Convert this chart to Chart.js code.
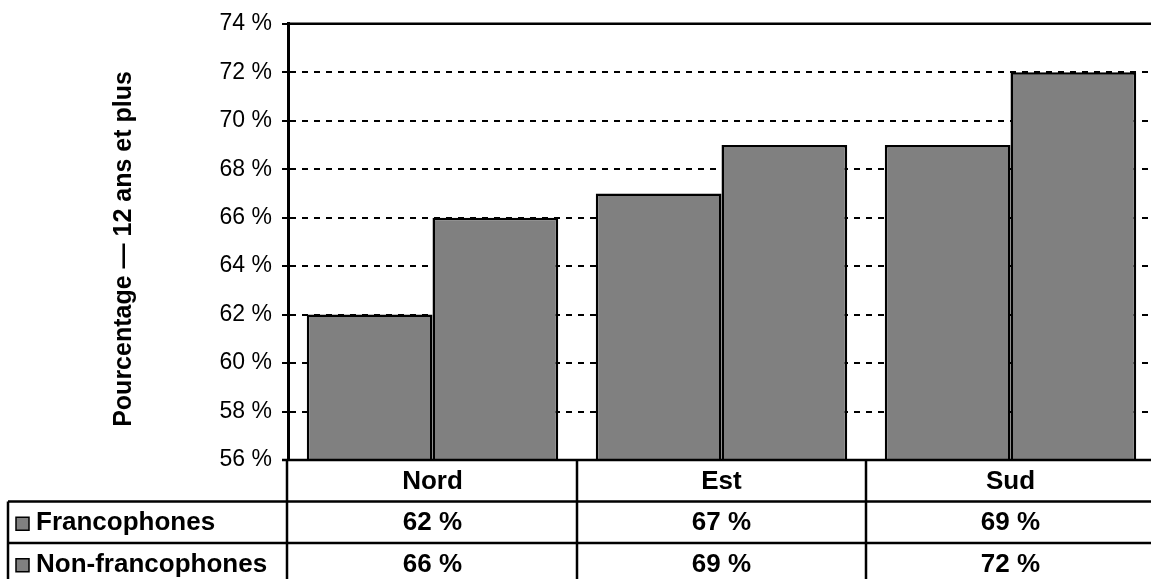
<!DOCTYPE html>
<html lang="fr">
<head>
<meta charset="utf-8">
<title>Pourcentage — 12 ans et plus</title>
<script src="https://cdn.jsdelivr.net/npm/chart.js@4/dist/chart.umd.min.js"></script>
<style>
  html, body { margin: 0; padding: 0; background: #fff; overflow: hidden; }
  #wrap { width: 1155px; height: 579px; }
</style>
</head>
<body>
<div id="wrap"><canvas id="graphique" width="1155" height="579"></canvas></div>
<script>
const regions = ['Nord', 'Est', 'Sud'];
const francophones = [62, 67, 69];
const nonFrancophones = [66, 69, 72];
const yMin = 56;
const yMax = 74;
const yStep = 2;
const seriesNames = ['Francophones', 'Non-francophones'];
const yTitle = 'Pourcentage — 12 ans et plus';

const police = '"Liberation Sans", Arial, Helvetica, sans-serif';
const gris = '#808080';

// tableau de données sous le graphique + titre vertical
const tablePlugin = {
    id: 'tableDonnees',
    afterDraw(chart) {
        const ctx = chart.ctx;
        const xs = chart.scales.x;
        const ys = chart.scales.y;
        const area = chart.chartArea;
        const right = chart.width;
        const row0 = area.bottom;      // 460
        const rowH = 41.5;
        const row1 = row0 + rowH;
        const row2 = row1 + rowH;
        const row3 = row2 + rowH;
        const tableLeft = 8;

        ctx.save();
        ctx.strokeStyle = '#000';
        ctx.lineWidth = 2.5;

        // ligne du haut (74 %) en trait plein
        const yTop = ys.getPixelForValue(yMax);
        ctx.beginPath();
        ctx.moveTo(area.left, yTop);
        ctx.lineTo(right, yTop);
        ctx.stroke();

        // lignes horizontales
        ctx.beginPath();
        ctx.moveTo(area.left - 6, row0); ctx.lineTo(right, row0);
        ctx.moveTo(tableLeft, row1); ctx.lineTo(right, row1);
        ctx.moveTo(tableLeft, row2); ctx.lineTo(right, row2);
        ctx.moveTo(tableLeft, row3); ctx.lineTo(right, row3);
        ctx.stroke();

        // lignes verticales
        ctx.beginPath();
        ctx.moveTo(tableLeft, row1); ctx.lineTo(tableLeft, row3);
        ctx.moveTo(area.left - 1, row0); ctx.lineTo(area.left - 1, row3);
        for (let i = 0; i < regions.length - 1; i++) {
            const xb = (xs.getPixelForValue(i) + xs.getPixelForValue(i + 1)) / 2;
            ctx.moveTo(xb, row0); ctx.lineTo(xb, row3);
        }
        ctx.stroke();

        // textes
        ctx.fillStyle = '#000';
        ctx.font = 'bold 26px ' + police;
        ctx.textAlign = 'center';
        ctx.textBaseline = 'middle';
        const rows = [francophones, nonFrancophones];
        regions.forEach((r, i) => {
            const cx = xs.getPixelForValue(i);
            ctx.fillText(r, cx, (row0 + row1) / 2 + 1);
            rows.forEach((vals, k) => {
                const cy = k === 0 ? (row1 + row2) / 2 + 1 : (row2 + row3) / 2 + 1;
                ctx.fillText(vals[i] + ' %', cx, cy);
            });
        });

        // légende dans le tableau
        ctx.textAlign = 'left';
        seriesNames.forEach((nom, k) => {
            const cy = k === 0 ? (row1 + row2) / 2 + 1 : (row2 + row3) / 2 + 1;
            ctx.fillStyle = gris;
            ctx.fillRect(16, cy - 6, 13, 13);
            ctx.lineWidth = 1.5;
            ctx.strokeRect(16, cy - 6, 13, 13);
            ctx.fillStyle = '#000';
            ctx.fillText(nom, 36, cy);
        });

        // titre de l'axe vertical
        ctx.save();
        ctx.translate(124, 249);
        ctx.rotate(-Math.PI / 2);
        ctx.textAlign = 'center';
        ctx.font = 'bold 25px ' + police;
        ctx.fillText(yTitle, 0, 0);
        ctx.restore();

        ctx.restore();
    }
};

const ctx = document.getElementById('graphique').getContext('2d');
const graphique = new Chart(ctx, {
    type: 'bar',
    data: {
        labels: regions,
        datasets: [
            {
                label: seriesNames[0],
                data: francophones,
                backgroundColor: gris,
                borderColor: '#000',
                borderWidth: 2.5
            },
            {
                label: seriesNames[1],
                data: nonFrancophones,
                backgroundColor: gris,
                borderColor: '#000',
                borderWidth: 2.5
            }
        ]
    },
    options: {
        responsive: false,
        animation: false,
        categoryPercentage: 0.87,
        barPercentage: 1.0,
        layout: {
            padding: { left: 0, right: 0, top: 21, bottom: 119 }
        },
        plugins: {
            legend: { display: false },
            tooltip: { enabled: false }
        },
        scales: {
            x: {
                display: false
            },
            y: {
                min: yMin,
                max: yMax,
                afterFit: function (scale) { scale.width = 288; },
                ticks: {
                    stepSize: yStep,
                    color: '#000',
                    padding: 10,
                    font: { family: police, size: 23 },
                    callback: v => v + ' %'
                },
                grid: {
                    color: '#000',
                    lineWidth: 2,
                    tickLength: 6,
                    tickColor: '#000',
                    tickWidth: 2,
                    tickBorderDash: []
                },
                border: {
                    display: true,
                    color: '#000',
                    width: 3,
                    dash: [6, 6]
                }
            }
        }
    },
    plugins: [tablePlugin]
});
</script>
</body>
</html>
